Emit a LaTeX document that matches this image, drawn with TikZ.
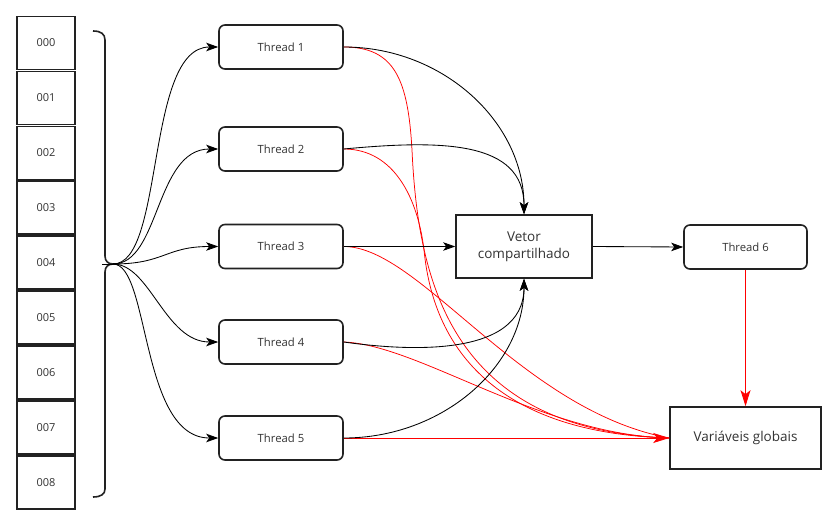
\documentclass[tikz,border=0pt]{standalone}
\usepackage{fontspec}
\setmainfont{Open Sans}
\usetikzlibrary{arrows.meta}
\definecolor{ink}{HTML}{333333}
\definecolor{edgec}{HTML}{222222}
\definecolor{rl}{HTML}{FF0000}
\begin{document}
\begin{tikzpicture}[x=1pt,y=-1pt,
  cell/.style={draw=edgec, line width=1.6pt, minimum width=58pt, minimum height=53pt, inner sep=0pt, font=\fontsize{11}{13}\selectfont, text=ink},
  thr/.style={draw=edgec, line width=1.6pt, rounded corners=6pt, minimum width=124pt, minimum height=44pt, inner sep=0pt, font=\fontsize{11.3}{13}\selectfont, text=ink},
  bigbox/.style={draw=edgec, line width=1.6pt, inner sep=0pt, font=\fontsize{13.5}{17}\selectfont, text=ink, align=center},
  blk/.style={draw=black, line width=0.85pt, -{Stealth[length=12pt,width=8.5pt,inset=3pt]}},
  rline/.style={draw=rl, line width=0.75pt},
  rarrow/.style={draw=rl, line width=0.85pt, -{Stealth[length=16pt,width=10pt,inset=4pt]}}]
\useasboundingbox (0,0) rectangle (837,519);
\fill[white] (0,0) rectangle (837,519);
% memory cells
\foreach \i in {0,...,8} {
  \node[cell] (c\i) at (46,{43+54.9*\i}) {00\i};
}
% brace
\draw[edgec, line width=1.6pt] (93,31) .. controls (101,31) and (105,34) .. (105,40) -- (105,256)
  .. controls (105,261) and (108,264) .. (113,264)
  .. controls (108,264) and (105,267) .. (105,272) -- (105,489)
  .. controls (105,494) and (101,497) .. (93,497);
\coordinate (tip) at (113,264);
\coordinate (tick) at (102,264);
\draw[black, line width=0.8pt] (tick) -- (tip);
% threads
\node[thr] (t1) at (281,47) {Thread 1};
\node[thr] (t2) at (281,149) {Thread 2};
\node[thr] (t3) at (281,246.5) {Thread 3};
\node[thr] (t4) at (281,342) {Thread 4};
\node[thr] (t5) at (281,438) {Thread 5};
\node[thr, minimum width=123pt] (t6) at (745.5,247) {Thread 6};
\node[bigbox, minimum width=136pt, minimum height=63pt] (v) at (524,246.5) {Vetor\\compartilhado};
\node[bigbox, minimum width=151pt, minimum height=62pt] (g) at (745.5,438) {Variáveis globais};
% brace to threads
\draw[blk] (tip) .. controls (165,264) and (145,47) .. (t1.west);
\draw[blk] (tip) .. controls (160,264) and (155,149) .. (t2.west);
\draw[blk] (tip) .. controls (165,264) and (165,246.5) .. (t3.west);
\draw[blk] (tip) .. controls (150,264) and (165,342) .. (t4.west);
\draw[blk] (tip) .. controls (150,264) and (140,438) .. (t5.west);
% red to globals
\draw[rline] (t1.east) .. controls (395,47) and (408,80) .. (412,150) .. controls (418,280) and (450,430) .. (g.west);
\draw[rline] (t2.east) .. controls (395,149) and (418,200) .. (424,250) .. controls (430,310) and (460,432) .. (g.west);
\draw[rline] (t3.east) .. controls (420,246.5) and (520,410) .. (g.west);
\draw[rline] (t4.east) .. controls (420,345) and (540,435) .. (g.west);
\draw[rarrow] (t5.east) -- (g.west);
\draw[rarrow] (t6.south) -- (g.north);
% threads to shared vector
\draw[blk] (t1.east) .. controls (443,47) and (524,122) .. (v.north);
\draw[blk] (t2.east) .. controls (440,140) and (524,140) .. (v.north);
\draw[blk] (t3.east) -- (v.west);
\draw[blk] (t4.east) .. controls (400,350) and (524,360) .. (v.south);
\draw[blk] (t5.east) .. controls (443,438) and (524,366) .. (v.south);
\draw[blk] (v.east) -- (t6.west);
\end{tikzpicture}
\end{document}
